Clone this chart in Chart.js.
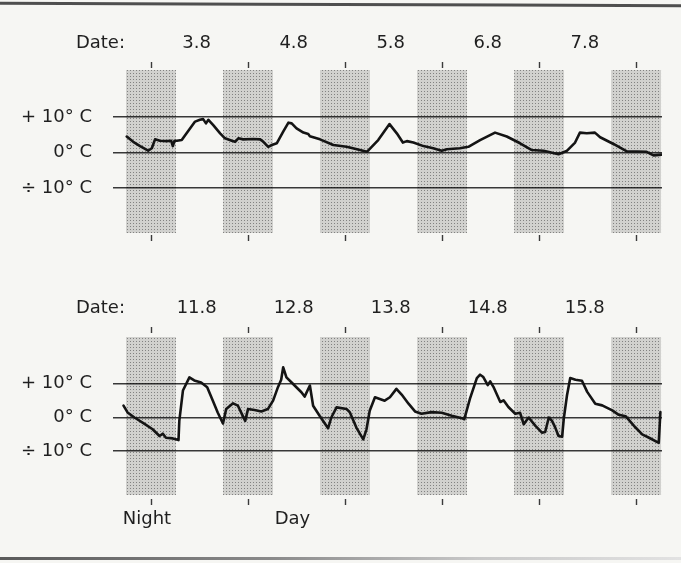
<!DOCTYPE html>
<html>
<head>
<meta charset="utf-8">
<title>Temperature record</title>
<script src="https://cdn.jsdelivr.net/npm/chart.js@4.4.1/dist/chart.umd.min.js"></script>
<style>
    html, body { margin: 0; padding: 0; }
    body { width: 681px; height: 563px; background: #f6f6f3; position: relative; overflow: hidden; }
    .panel { position: absolute; left: 0; width: 681px; }
    #edgeTop { position: absolute; left: 0; top: 3px; width: 681px; height: 3px; background: #4f4f4f; transform: rotate(0.2deg); }
    #edgeBottom { position: absolute; left: 0; top: 557px; width: 681px; height: 3px;
        background: linear-gradient(to right, #5a5a5a, #8a8a8a 40%, #c8c8c8 70%, #e2e2e2); }
</style>
</head>
<body>
<div id="edgeTop"></div>
<div class="panel" style="top:0;height:280px"><canvas id="chartA" width="681" height="280"></canvas></div>
<div class="panel" style="top:280px;height:283px"><canvas id="chartB" width="681" height="283"></canvas></div>
<div id="edgeBottom"></div>

<script>
// hours counted from the first midnight of each panel, temperatures in deg C

const datesA = ['3.8', '4.8', '5.8', '6.8', '7.8'];
const hoursA = [-6.0, -4.4, -2.7, -0.7, 0.2, 1.0, 2.2, 3.9, 5.0, 5.4, 5.8, 6.4, 7.6, 8.8, 10.9, 12.1, 12.9, 13.6, 14.2, 15.4,
    17.1, 18.3, 20.0, 20.8, 21.6, 22.8, 25.3, 27.0, 27.8, 29.0, 29.9, 31.1, 32.7, 34.0, 34.8, 36.0, 37.7, 38.9, 39.3, 41.8,
    45.1, 48.4, 51.7, 53.4, 56.2, 59.0, 60.8, 62.3, 63.3, 64.9, 67.4, 69.8, 71.9, 73.2, 76.4, 78.5, 81.4, 85.1, 88.0, 91.3,
    94.2, 97.1, 100.8, 102.8, 104.9, 106.1, 107.8, 109.8, 111.1, 114.4, 117.7, 120.2, 122.6, 124.3, 126.3];
const tempA = [4.5, 3.0, 1.8, 0.5, 1.2, 3.7, 3.3, 3.2, 3.3, 1.8, 3.3, 3.3, 3.5, 5.4, 8.7, 9.2, 9.4, 8.2, 9.2, 7.7,
    5.4, 4.0, 3.3, 3.0, 4.0, 3.7, 3.8, 3.7, 3.0, 1.6, 2.1, 2.6, 5.9, 8.4, 8.2, 6.8, 5.6, 5.2, 4.6, 3.7,
    2.1, 1.6, 0.7, 0.2, 3.5, 8.0, 5.4, 2.8, 3.2, 2.8, 1.8, 1.2, 0.5, 0.9, 1.2, 1.6, 3.5, 5.6, 4.5, 2.6,
    0.7, 0.5, -0.5, 0.4, 2.8, 5.6, 5.4, 5.6, 4.3, 2.4, 0.3, 0.3, 0.2, -0.8, -0.6];

const datesB = ['11.8', '12.8', '13.8', '14.8', '15.8'];
const hoursB = [-6.8, -5.8, -4.1, -1.7, 0.4, 2.1, 2.9, 3.7, 5.4, 6.8, 7.0, 7.9, 9.5, 10.7, 12.4, 13.9, 15.3, 16.5, 17.8, 18.6,
    20.3, 21.5, 22.7, 23.3, 24.0, 25.6, 27.3, 28.9, 30.2, 31.4, 32.2, 32.7, 33.5, 35.1, 37.2, 38.0, 39.3, 40.1, 41.7, 43.8,
    44.6, 45.9, 48.4, 49.2, 50.8, 52.5, 53.3, 54.1, 55.4, 56.6, 57.8, 59.1, 60.7, 62.0, 63.7, 65.3, 66.9, 69.4, 71.9, 74.4,
    76.9, 77.5, 78.9, 80.6, 81.4, 82.2, 83.3, 83.9, 84.7, 86.4, 87.2, 88.4, 90.1, 91.3, 92.2, 93.4, 95.1, 96.7, 97.5, 98.4,
    99.2, 100.0, 100.8, 101.7, 102.1, 102.9, 103.7, 105.0, 106.6, 107.9, 109.9, 111.6, 114.1, 115.7, 117.4, 119.8, 121.5, 123.2, 125.6, 126.0];
const tempB = [3.5, 1.5, 0, -1.8, -3.5, -5.5, -4.8, -6.0, -6.2, -6.7, -1.0, 8.0, 11.9, 11.0, 10.4, 9.0, 5.0, 1.5, -1.8, 2.5,
    4.2, 3.5, 0.5, -1.0, 2.5, 2.2, 1.8, 2.5, 5.0, 9.0, 11.2, 14.9, 11.9, 10.0, 7.5, 6.2, 9.5, 3.5, 0.5, -3.2,
    0, 3.0, 2.5, 1.5, -3.0, -6.5, -3.5, 2.0, 6.0, 5.5, 5.0, 6.0, 8.5, 6.8, 4.1, 1.8, 1.1, 1.6, 1.4, 0.5,
    -0.2, -0.5, 5.6, 11.7, 12.7, 12.0, 9.6, 10.7, 9.1, 4.6, 5.1, 3.1, 1.1, 1.4, -2.0, 0, -2.5, -4.5, -4.3, 0,
    -1.0, -3.0, -5.5, -5.7, -0.4, 6.6, 11.7, 11.2, 10.9, 7.6, 4.1, 3.6, 2.1, 0.8, 0.4, -2.9, -5.0, -6.0, -7.5, 1.6];

// shaded night periods and the midnight marks
const nightFrom = [-6.2, 17.8, 41.8, 65.8, 89.8, 113.8];
const nightTo = [6.2, 30.2, 54.2, 78.2, 102.2, 126.2];
const midnights = [0, 24, 48, 72, 96, 120];

const yTickValues = [-10, 0, 10];
const yTickLabels = ['÷ 10° C', '0° C', '+ 10° C'];

Chart.defaults.font.family = '"DejaVu Sans", sans-serif';
Chart.defaults.font.size = 18;
Chart.defaults.color = '#1f1f1f';

function nightPattern() {
    const c = document.createElement('canvas');
    c.width = 3;
    c.height = 3;
    const g = c.getContext('2d');
    g.fillStyle = 'rgba(0,0,0,0.15)';
    g.fillRect(0, 0, 3, 3);
    g.fillStyle = 'rgba(0,0,0,0.38)';
    g.fillRect(1, 1, 1, 1);
    return g.createPattern(c, 'repeat');
}

function markTicks(labels) {
    // tick marks at midnight plus text-only ticks
    const list = midnights.map(h => ({ value: h, text: '', mark: true }));
    labels.forEach(l => list.push({ value: l.value, text: l.text, mark: false }));
    return list.sort((a, b) => a.value - b.value);
}

function xAxis(position, ticksList, height, padding) {
    return {
        type: 'linear',
        axis: 'x',
        position: position,
        min: -9.4,
        max: 126.4,
        grid: {
            drawOnChartArea: false,
            tickLength: 6,
            tickWidth: 1.4,
            tickColor: ctx => (ctx.tick && ctx.tick.mark) ? '#3a3a3a' : 'rgba(0,0,0,0)'
        },
        border: { display: false },
        afterBuildTicks: axis => { axis.ticks = ticksList.map(t => ({ ...t })); },
        afterFit: axis => { axis.height = height; },
        ticks: {
            autoSkip: false,
            maxRotation: 0,
            minRotation: 0,
            padding: padding,
            callback: (value, index, ticks) => ticks[index].text
        }
    };
}

function makePanel(canvasId, hours, temps, dates, opt) {
    const pattern = nightPattern();
    const topTexts = [{ value: -12.5, text: 'Date:' }]
        .concat(dates.map((d, i) => ({ value: 12 + 24 * i - 0.7, text: d })));

    const datasets = [{
        data: hours.map((h, i) => ({ x: h, y: temps[i] })),
        borderColor: '#141414',
        borderWidth: 2.6,
        borderJoinStyle: 'round',
        borderCapStyle: 'round',
        pointRadius: 0,
        tension: 0,
        fill: false,
        order: 0
    }];

    nightFrom.forEach((from, i) => {
        datasets.push({
            data: [{ x: from, y: opt.bandTop }, { x: nightTo[i], y: opt.bandTop }],
            borderWidth: 0,
            pointRadius: 0,
            backgroundColor: pattern,
            fill: { value: opt.bandBottom },
            order: 1
        });
    });

    return new Chart(document.getElementById(canvasId), {
        type: 'line',
        data: { datasets: datasets },
        options: {
            responsive: false,
            animation: false,
            events: [],
            layout: { padding: { left: 0, right: 19, top: 0, bottom: 0 } },
            plugins: {
                legend: { display: false },
                tooltip: { enabled: false }
            },
            scales: {
                x: xAxis('bottom', markTicks(opt.bottomTexts), opt.bottomHeight, 4),
                xt: xAxis('top', markTicks(topTexts), opt.topHeight, 8),
                y: {
                    type: 'linear',
                    min: opt.yMin,
                    max: opt.yMax,
                    grid: { color: '#383838', lineWidth: 1.6, drawTicks: false },
                    border: { display: false },
                    afterBuildTicks: axis => { axis.ticks = yTickValues.map(v => ({ value: v })); },
                    afterFit: axis => { axis.width = 113; },
                    ticks: {
                        padding: 21,
                        callback: (value, index) => yTickLabels[index]
                    }
                }
            }
        }
    });
}

makePanel('chartA', hoursA, tempA, datesA, {
    yMin: -23.24, yMax: 23.8, bandTop: 23.24, bandBottom: -22.68,
    topHeight: 68, bottomHeight: 45, bottomTexts: []
});

makePanel('chartB', hoursB, tempB, datesB, {
    yMin: -24.18, yMax: 25.07, bandTop: 23.9, bandBottom: -23.0,
    topHeight: 53, bottomHeight: 64,
    bottomTexts: [{ value: -1, text: 'Night' }, { value: 35, text: 'Day' }]
});
</script>
</body>
</html>
